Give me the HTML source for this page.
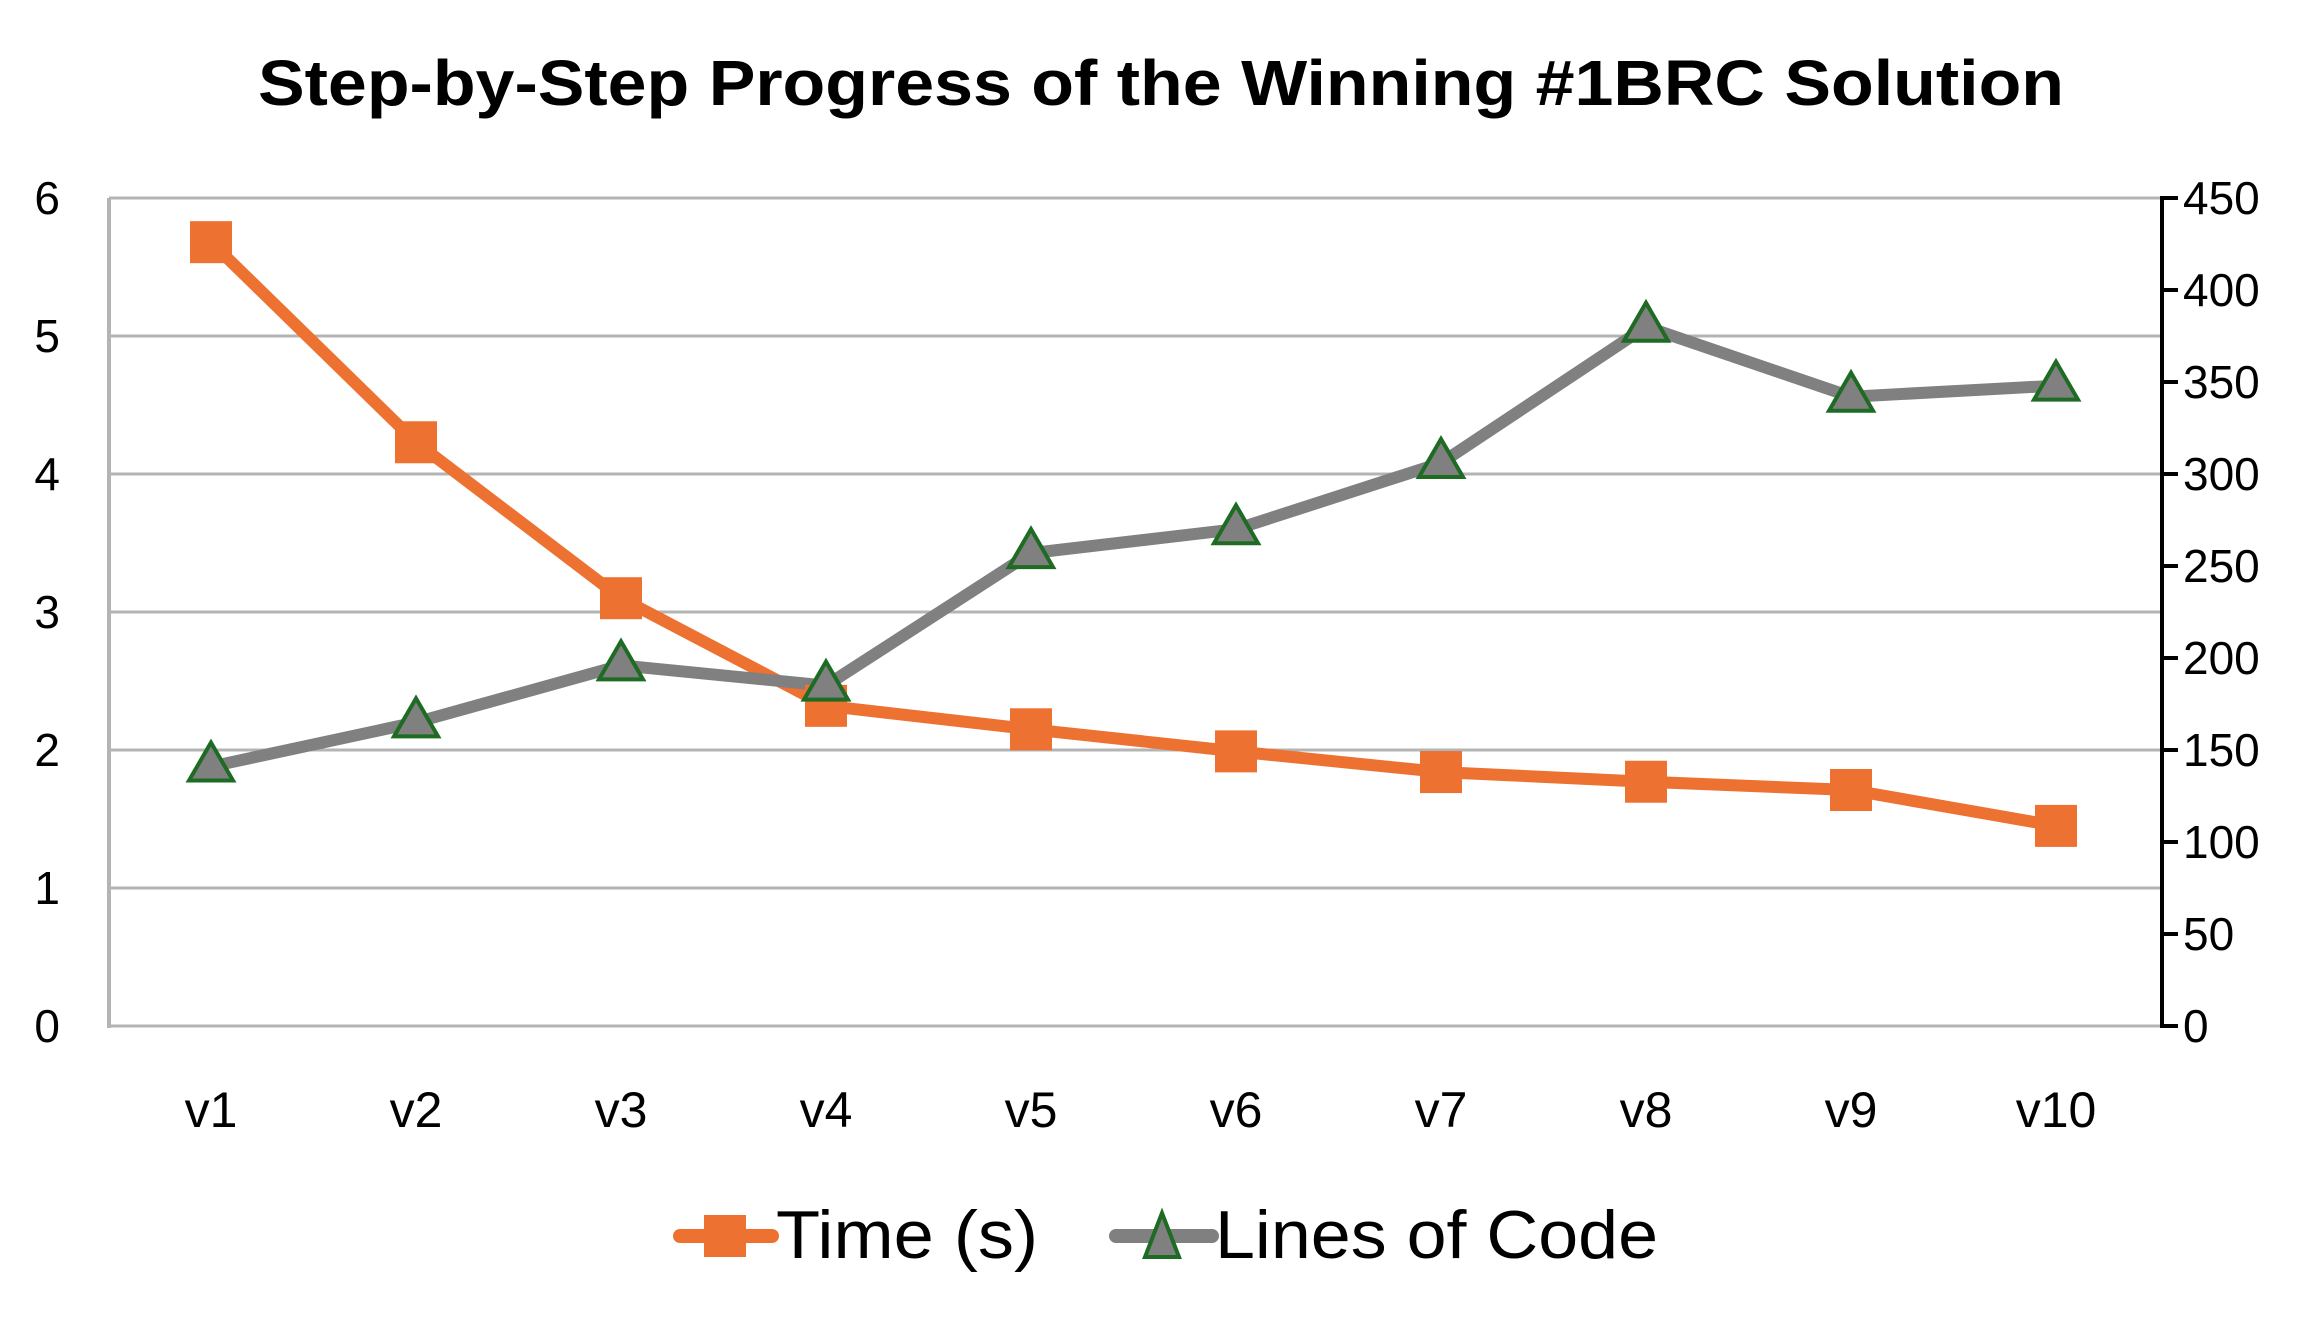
<!DOCTYPE html>
<html><head><meta charset="utf-8"><style>
html,body{margin:0;padding:0;background:#fff;}
svg{display:block;font-family:"Liberation Sans",sans-serif;}
</style></head><body>
<svg id="chart" width="2323" height="1333" viewBox="0 0 2323 1333">
<text x="1161" y="105" text-anchor="middle" font-size="64" font-weight="bold" textLength="1806" lengthAdjust="spacingAndGlyphs">Step-by-Step Progress of the Winning #1BRC Solution</text>
<g id="grid"></g>
<g id="axes"></g>
<g id="series"></g>
<g>
  <g>
    <line x1="680" y1="1236" x2="772" y2="1236" stroke="#ED7131" stroke-width="14" stroke-linecap="round"/>
    <rect x="704" y="1215" width="42" height="42" fill="#ED7131"/>
    <text x="776" y="1258" font-size="68" textLength="262" lengthAdjust="spacingAndGlyphs">Time (s)</text>
  </g>
  <g>
    <line x1="1116" y1="1236" x2="1212" y2="1236" stroke="#808080" stroke-width="14" stroke-linecap="round"/>
    <polygon points="1162,1213 1145,1257 1179,1257" fill="#808080" stroke="#1E6B24" stroke-width="4"/>
    <text x="1215" y="1258" font-size="68" textLength="443" lengthAdjust="spacingAndGlyphs">Lines of Code</text>
  </g>
</g>
</svg>
<script>
const categories = ["v1","v2","v3","v4","v5","v6","v7","v8","v9","v10"];
const timeValues = [5.68,4.23,3.1,2.32,2.15,1.99,1.84,1.77,1.71,1.45];
const locValues = [141,165,196,185,257,270,306,380,342,348];
const leftTicks = [0,1,2,3,4,5,6];
const rightTicks = [0,50,100,150,200,250,300,350,400,450];

const NS="http://www.w3.org/2000/svg";
const L=109,R=2162,T=198,B=1026;
const yL=v=>B-(v/6)*(B-T);
const yR=v=>B-(v/450)*(B-T);
const xC=i=>211+i*205;
function mk(tag,attrs,parent){const e=document.createElementNS(NS,tag);for(const k in attrs)e.setAttribute(k,attrs[k]);parent.appendChild(e);return e;}
const grid=document.getElementById('grid'),axes=document.getElementById('axes'),ser=document.getElementById('series');

leftTicks.forEach(t=>{
  if(t>0){const g=mk('line',{x1:L,x2:R,y1:yL(t),y2:yL(t),stroke:'#b4b4b4','stroke-width':3},grid);
  
  }
  const tx=mk('text',{x:60,y:yL(t)+16,'text-anchor':'end','font-size':46},axes);tx.textContent=t;
  
  
});
const la=mk('line',{x1:L,x2:L,y1:T,y2:B+2,stroke:'#b4b4b4','stroke-width':4},axes);


const xa=mk('line',{x1:L,x2:R,y1:B,y2:B,stroke:'#b4b4b4','stroke-width':3},axes);


const ra=mk('line',{x1:R,x2:R,y1:T-2,y2:B+2,stroke:'#000','stroke-width':4},axes);


rightTicks.forEach(t=>{
  const tk=mk('line',{x1:R,x2:R+16,y1:yR(t),y2:yR(t),stroke:'#000','stroke-width':4},axes);
  
  
  const tx=mk('text',{x:2183,y:yR(t)+16,'font-size':46},axes);tx.textContent=t;
  
  
});
categories.forEach((c,i)=>{
  const tx=mk('text',{x:xC(i),y:1127,'text-anchor':'middle','font-size':50},axes);tx.textContent=c;
  
  
});
const tl=mk('polyline',{points:timeValues.map((v,i)=>xC(i)+','+yL(v)).join(' '),fill:'none',stroke:'#ED7131','stroke-width':12,'stroke-linejoin':'round'},ser);


const gl=mk('polyline',{points:locValues.map((v,i)=>xC(i)+','+yR(v)).join(' '),fill:'none',stroke:'#808080','stroke-width':12,'stroke-linejoin':'round'},ser);


timeValues.forEach((v,i)=>{
  const r=mk('rect',{x:xC(i)-21,y:yL(v)-21,width:42,height:42,fill:'#ED7131'},ser);
  
  
});
locValues.forEach((v,i)=>{
  const x=xC(i),y=yR(v);
  const p=mk('polygon',{points:`${x},${y-24} ${x-22},${y+14} ${x+22},${y+14}`,fill:'#808080',stroke:'#1E6B24','stroke-width':4},ser);
  
  
});
</script>
</body></html>
